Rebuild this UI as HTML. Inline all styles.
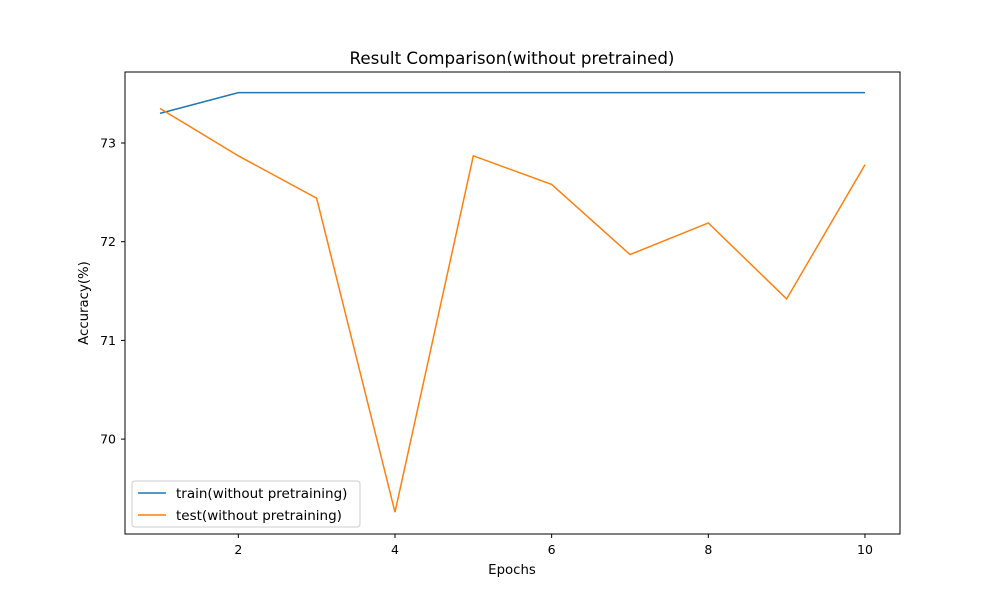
<!DOCTYPE html>
<html><head><meta charset="utf-8"><style>
body{margin:0;background:#fff;}
svg text{font-family:"DejaVu Sans","Liberation Sans",sans-serif;fill:#000;}
</style></head><body>
<svg id="chart" width="1000" height="600" xmlns="http://www.w3.org/2000/svg">
<rect width="1000" height="600" fill="#fff"/>
<text x="512" y="64" font-size="16.7" text-anchor="middle">Result Comparison(without pretrained)</text>
<g id="grid"></g>
<g id="series"></g>
<rect x="125" y="72" width="775" height="462" fill="none" stroke="#000" stroke-width="1"/>
<text x="512" y="574" font-size="13.3" text-anchor="middle">Epochs</text>
<text x="88" y="303" font-size="13.3" text-anchor="middle" transform="rotate(-90 88 303)">Accuracy(%)</text>
<g>
<rect x="132" y="481" width="228" height="46" rx="3" fill="#fff" stroke="#ccc"/>
<line x1="138" y1="493" x2="166" y2="493" stroke="#1f77b4" stroke-width="1.5"/>
<text x="176" y="498" font-size="13.5">train(without pretraining)</text>
<line x1="138" y1="515" x2="166" y2="515" stroke="#ff7f0e" stroke-width="1.5"/>
<text x="176" y="520" font-size="13.5">test(without pretraining)</text>
</g>
</svg>
<script>
const epochs=[1,2,3,4,5,6,7,8,9,10];
const trainAcc=[73.30,73.51,73.51,73.51,73.51,73.51,73.51,73.51,73.51,73.51];
const testAcc=[73.35,72.87,72.44,69.26,72.87,72.58,71.87,72.19,71.42,72.78];
const xTicks=[2,4,6,8,10];
const yTicks=[70,71,72,73];
const NS="http://www.w3.org/2000/svg";
function xs(v){return 160+(v-1)*78.33;}
function ys(v){return 143-(v-73)*98.7;}
const g=document.getElementById('grid');
xTicks.forEach(t=>{
 const l=document.createElementNS(NS,'line');
 l.setAttribute('x1',xs(t));l.setAttribute('x2',xs(t));l.setAttribute('y1',534);l.setAttribute('y2',538);l.setAttribute('stroke','#000');
 
 
 g.appendChild(l);
 const tx=document.createElementNS(NS,'text');
 tx.setAttribute('x',xs(t));tx.setAttribute('y',554);tx.setAttribute('font-size','12.5');tx.setAttribute('text-anchor','middle');tx.textContent=t;
 
 
 g.appendChild(tx);
});
yTicks.forEach(t=>{
 const l=document.createElementNS(NS,'line');
 l.setAttribute('x1',121);l.setAttribute('x2',125);l.setAttribute('y1',ys(t));l.setAttribute('y2',ys(t));l.setAttribute('stroke','#000');
 
 
 g.appendChild(l);
 const tx=document.createElementNS(NS,'text');
 tx.setAttribute('x',116);tx.setAttribute('y',ys(t)+4.5);tx.setAttribute('font-size','12.5');tx.setAttribute('text-anchor','end');tx.textContent=t;
 
 
 g.appendChild(tx);
});
const s=document.getElementById('series');
function line(vals,color,name){
 const p=document.createElementNS(NS,'polyline');
 p.setAttribute('points',vals.map((v,i)=>xs(epochs[i])+','+ys(v)).join(' '));
 p.setAttribute('fill','none');p.setAttribute('stroke',color);p.setAttribute('stroke-width','1.5');
 
 
 s.appendChild(p);
}
line(trainAcc,'#1f77b4','train-line');
line(testAcc,'#ff7f0e','test-line');
</script>
</body></html>
